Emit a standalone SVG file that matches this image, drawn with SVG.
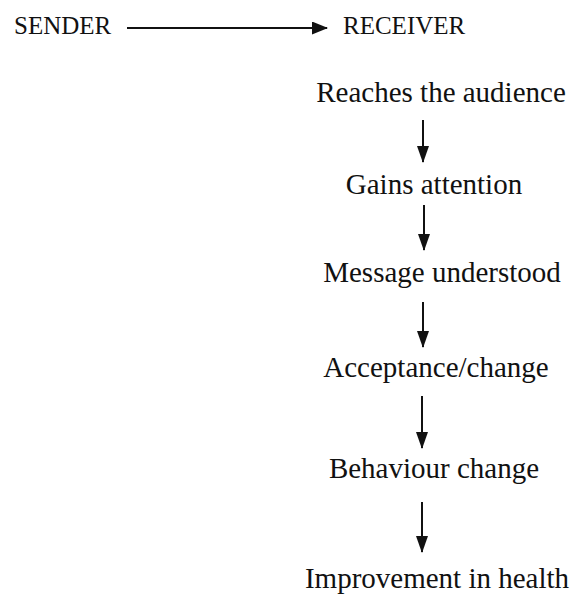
<svg xmlns="http://www.w3.org/2000/svg" width="571" height="601" viewBox="0 0 571 601">
<style>
text{font-family:"Liberation Serif","Times New Roman",serif;fill:#111}
.s{font-size:25px}
.n{font-size:29px;text-anchor:middle}
.c{stroke:#111;stroke-width:2;fill:none}
</style>
<defs>
<marker id="ah" markerWidth="16" markerHeight="13" viewBox="0 0 16 13" refX="15" refY="6.5" orient="auto" markerUnits="userSpaceOnUse">
<path d="M0,0 L16,6.5 L0,13 Z" fill="#111"/>
</marker>
<marker id="av" markerWidth="17" markerHeight="12" viewBox="0 0 17 12" refX="16" refY="6" orient="auto" markerUnits="userSpaceOnUse">
<path d="M0,0 L17,6 L0,12 Z" fill="#111"/>
</marker>
</defs>
<rect width="571" height="601" fill="#fff"/>
<g id="sender"><text class="s" x="14" y="34">SENDER</text></g>
<g id="receiver"><text class="s" x="343" y="34" font-size="24">RECEIVER</text></g>
<g id="n1"><text class="n" x="441" y="102">Reaches the audience</text></g>
<g id="n2"><text class="n" x="434" y="194">Gains attention</text></g>
<g id="n3"><text class="n" x="442" y="282">Message understood</text></g>
<g id="n4"><text class="n" x="436" y="377">Acceptance/change</text></g>
<g id="n5"><text class="n" x="434" y="478">Behaviour change</text></g>
<g id="n6"><text class="n" x="437" y="588">Improvement in health</text></g>
<g id="connectors">
<path class="c" d="M127,28 H327" marker-end="url(#ah)"/>
<path class="c" d="M423,120 V162" marker-end="url(#av)"/>
<path class="c" d="M424,205 V250" marker-end="url(#av)"/>
<path class="c" d="M423,302 V347" marker-end="url(#av)"/>
<path class="c" d="M422,396 V448" marker-end="url(#av)"/>
<path class="c" d="M422,502 V552" marker-end="url(#av)"/>
</g>
</svg>
